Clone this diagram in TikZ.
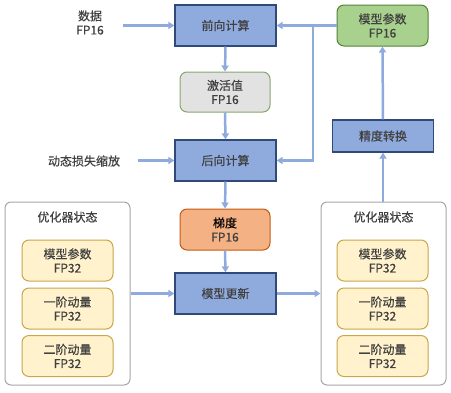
\documentclass[tikz,border=0pt]{standalone}
\usepackage{fontspec}
\setmainfont{Noto Sans CJK SC}[FakeBold=0.4]
\usetikzlibrary{arrows.meta,positioning}
\definecolor{bfill}{HTML}{8FAADC}
\definecolor{bdraw}{HTML}{2F4A78}
\definecolor{gfill}{HTML}{A9D18E}
\definecolor{gdraw}{HTML}{548235}
\definecolor{grfill}{HTML}{E2E2E2}
\definecolor{ofill}{HTML}{F4B183}
\definecolor{odraw}{HTML}{C55A11}
\definecolor{yfill}{HTML}{FFF2CC}
\definecolor{ydraw}{HTML}{C9A74A}
\definecolor{arr}{HTML}{8FAADC}
\definecolor{txt}{HTML}{404040}
\definecolor{outer}{HTML}{A6A6A6}
\tikzset{
  lbl/.style={text=txt,font=\fontsize{12}{14}\selectfont,align=center,inner sep=0pt},
  bluebox/.style={lbl,rectangle,draw=bdraw,fill=bfill,line width=1.2pt,minimum width=101pt,minimum height=41pt},
  greenbox/.style={lbl,rectangle,rounded corners=7pt,draw=gdraw,fill=gfill,line width=1pt,minimum width=91pt,minimum height=41pt},
  graybox/.style={lbl,rectangle,rounded corners=7pt,draw=gdraw!70,fill=grfill,line width=1pt,minimum width=90pt,minimum height=40pt},
  orangebox/.style={lbl,rectangle,rounded corners=7pt,draw=odraw,fill=ofill,line width=1pt,minimum width=90pt,minimum height=41pt},
  yellowbox/.style={lbl,rectangle,rounded corners=7pt,draw=ydraw,fill=yfill,line width=1pt,minimum width=91pt,minimum height=41pt},
  outerbox/.style={rectangle,rounded corners=6pt,draw=outer,fill=white,line width=1pt,minimum width=125pt,minimum height=183pt},
  flow/.style={draw=arr,line width=2.5pt,-{Triangle[width=7pt,length=6pt]}},
  plain/.style={draw=arr,line width=2.5pt}
}
\begin{document}
\begin{tikzpicture}[x=1pt,y=-1pt]
\useasboundingbox (0,0) rectangle (451,392);
% outer boxes
\node[outerbox] (LO) at (67.5,293.5) {};
\node[outerbox] (RO) at (383.5,293.5) {};
\node[lbl] (LT) at (67.5,217) {优化器状态};
\node[lbl] (RT) at (383.5,217) {优化器状态};
\node[yellowbox] (L1) at (67.5,260.5) {模型参数\\FP32};
\node[yellowbox] (L2) at (67.5,308.5) {一阶动量\\FP32};
\node[yellowbox] (L3) at (67.5,356) {二阶动量\\FP32};
\node[yellowbox] (R1) at (382.5,260.5) {模型参数\\FP32};
\node[yellowbox] (R2) at (382.5,308.5) {一阶动量\\FP32};
\node[yellowbox] (R3) at (382.5,356) {二阶动量\\FP32};
% main column
\node[bluebox] (F) at (225.5,25.5) {前向计算};
\node[graybox] (A) at (225,92) {激活值\\FP16};
\node[bluebox] (B) at (225.5,160.5) {后向计算};
\node[orangebox] (G) at (225,229.5) {\textcolor{black}{梯度}\\FP16};
\node[bluebox] (U) at (225.5,293.5) {模型更新};
% right column
\node[greenbox] (P) at (382.5,25.5) {模型参数\\FP16};
\node[bluebox,minimum height=32pt] (C) at (383,136) {精度转换};
% labels
\node[lbl] (D) at (90,22.5) {数据\\FP16};
\node[lbl] (S) at (84,161) {动态损失缩放};
% arrows
\coordinate (Dend) at (123,25.5);
\coordinate (Send) at (138,160.5);
\draw[flow] (Dend) -- (F.west);
\draw[flow] (Send) -- (B.west);
\draw[flow] (F.south) -- (A.north);
\draw[flow] (A.south) -- (B.north);
\draw[flow] (B.south) -- (G.north);
\draw[flow] (G.south) -- (U.north);
\coordinate (J) at (313,25.5);
\draw[flow] (P.west) -- (F.east);
\draw[flow] (J) -- (313,160.5) -- (B.east);
\draw[flow] (C.north) -- (P.south);
\draw[flow] (RO.north -| C.south) -- (C.south);
\draw[flow] (LO.east) -- (U.west);
\draw[flow] (U.east) -- (RO.west);
\end{tikzpicture}
\end{document}
